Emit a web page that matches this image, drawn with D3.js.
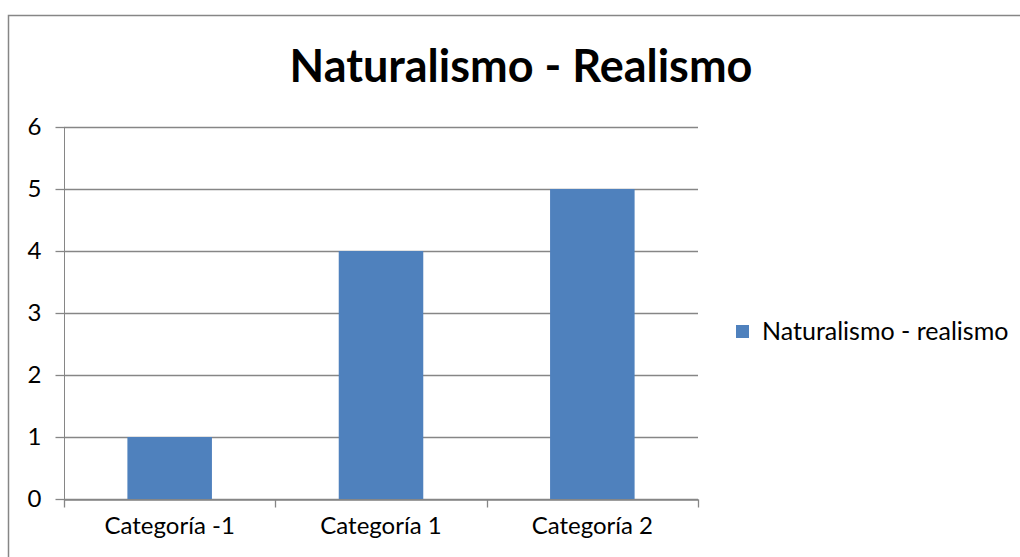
<!DOCTYPE html>
<html>
<head>
<meta charset="utf-8">
<script src="https://cdn.jsdelivr.net/npm/d3@7"></script>
<style>
  body { margin: 0; background: #fff; }
  svg { display: block; font-family: Lato, "Open Sans", sans-serif; }
  .axis path, .axis line { stroke: #868686; }
  .axis text { fill: #000; font-size: 24px; font-family: Lato, "Open Sans", sans-serif; }
</style>
</head>
<body>
<div id="chart"></div>
<script>
const categories = ["Categoría -1", "Categoría 1", "Categoría 2"];
const values = [1, 4, 5];
const yTicks = [0, 1, 2, 3, 4, 5, 6];
const seriesName = "Naturalismo - realismo";
const title = "Naturalismo - Realismo";

const w = 1020, h = 557;
const plotLeft = 64, plotRight = 698, plotTop = 127, plotBottom = 499;

const svg = d3.select("#chart").append("svg")
    .attr("width", w)
    .attr("height", h);

// outer frame
svg.append("rect")
    .attr("x", 8.5).attr("y", 15.5)
    .attr("width", 1100).attr("height", 700)
    .attr("fill", "none")
    .attr("stroke", "#868686")
    .attr("stroke-width", 1.5);

const x = d3.scaleBand()
    .domain(categories)
    .range([plotLeft, plotRight])
    .paddingInner(0.6)
    .paddingOuter(0.3);

const xOuter = d3.scaleBand().domain(categories).range([plotLeft, plotRight]);

const y = d3.scaleLinear()
    .domain([0, 6])
    .range([plotBottom, plotTop]);

// gridlines
svg.append("g")
    .selectAll("line")
    .data(yTicks)
    .enter().append("line")
        .attr("x1", plotLeft).attr("x2", plotRight)
        .attr("y1", d => Math.round(y(d)) + 0.5)
        .attr("y2", d => Math.round(y(d)) + 0.5)
        .attr("stroke", "#868686")
        .attr("stroke-width", 1.3);

// bars
svg.append("g")
    .selectAll("rect")
    .data(values)
    .enter().append("rect")
        .attr("x", (d, i) => x(categories[i]))
        .attr("width", x.bandwidth())
        .attr("y", d => y(d))
        .attr("height", d => y(0) - y(d))
        .attr("fill", "#4F81BD");

// y axis
const yAxis = d3.axisLeft(y)
    .tickValues(yTicks)
    .tickFormat(d3.format("d"))
    .tickSize(9)
    .tickPadding(14)
    .tickSizeOuter(0);
const gY = svg.append("g")
    .attr("class", "axis")
    .attr("transform", "translate(" + (plotLeft + 0.5) + ",0)")
    .call(yAxis);
gY.select(".domain").attr("d", "M0," + plotTop + "V" + (plotBottom + 8));
gY.selectAll(".tick line").attr("stroke-width", 1.3);

// x axis with ticks between categories
const xAxis = d3.axisBottom(xOuter)
    .tickSize(0)
    .tickPadding(17)
    .tickSizeOuter(0);
const gX = svg.append("g")
    .attr("class", "axis")
    .attr("transform", "translate(0," + (plotBottom + 0.5) + ")")
    .call(xAxis);
gX.select(".domain").attr("stroke-width", 1.3);
const bounds = [xOuter(categories[0])].concat(categories.map(c => xOuter(c) + xOuter.bandwidth()));
gX.selectAll(".sep")
    .data(bounds)
    .enter().append("line")
        .attr("class", "sep")
        .attr("x1", d => Math.round(d) + 0.5).attr("x2", d => Math.round(d) + 0.5)
        .attr("y1", 0).attr("y2", 8)
        .attr("stroke", "#868686")
        .attr("stroke-width", 1.3);
gX.selectAll(".tick text").attr("dy", "0.71em");

// title
svg.append("text")
    .attr("x", 521).attr("y", 82)
    .attr("text-anchor", "middle")
    .attr("font-size", 45)
    .attr("font-weight", "bold")
    .text(title);

// legend
const legend = svg.append("g").attr("transform", "translate(736,325)");
legend.append("rect")
    .attr("width", 13).attr("height", 13)
    .attr("fill", "#4F81BD");
legend.append("text")
    .attr("x", 26).attr("y", 6.5)
    .attr("dy", "0.35em")
    .attr("font-size", 25)
    .text(seriesName);
</script>
</body>
</html>
